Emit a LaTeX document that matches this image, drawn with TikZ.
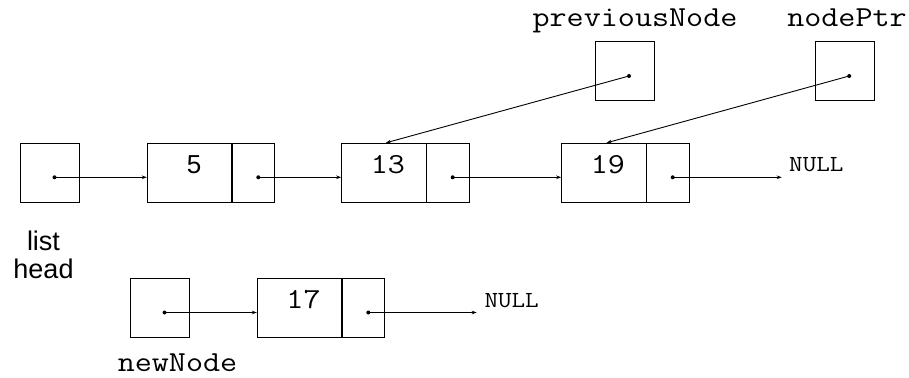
\documentclass[tikz,border=0pt]{standalone}
\usepackage{fontspec}
\usepackage{graphicx}
\usetikzlibrary{calc,arrows.meta}
\newfontfamily\sansfont{Liberation Sans}
% typewriter text widened to a 0.6em advance
\newcommand{\cour}[1]{\scalebox{1.143}[1]{#1}}
\begin{document}
\begin{tikzpicture}[x=1pt,y=-1pt,
  cell/.style={draw=black,line width=1pt,inner sep=0pt,minimum height=59pt},
  datacell/.style={cell,minimum width=84.5pt},
  ptrcell/.style={cell,minimum width=42.5pt},
  varcell/.style={cell,minimum width=59pt},
  link/.style={draw=black,line width=0.9pt,-{Stealth[length=5pt,width=3.6pt]}},
  dot/.style={circle,fill=black,inner sep=0pt,minimum size=4pt},
  num/.style={anchor=base,inner sep=0pt,font=\ttfamily\fontsize{29}{29}\selectfont},
  label/.style={anchor=base,inner sep=0pt,font=\ttfamily\fontsize{29}{29}\selectfont},
  nulltxt/.style={anchor=base west,inner sep=0pt,font=\ttfamily\fontsize{23}{23}\selectfont}]
\useasboundingbox (0,0) rectangle (909,377);

% pointer variables
\node[varcell] (head) at (50,172.8) {};
\node[varcell] (prev) at (624.5,71.5) {};
\node[varcell] (ptr)  at (844.7,71.5) {};
\node[varcell] (newn) at (160,308) {};

% list nodes: data part and pointer part
\node[datacell] (n5)   at (189.55,172.8) {};
\node[ptrcell]  (n5p)  at ($(n5.east)+(21.25,0)$) {};
\node[datacell] (n13)  at (383.95,172.8) {};
\node[ptrcell]  (n13p) at ($(n13.east)+(21.25,0)$) {};
\node[datacell] (n19)  at (603.95,172.8) {};
\node[ptrcell]  (n19p) at ($(n19.east)+(21.25,0)$) {};
\node[datacell] (n17)  at (299.55,308) {};
\node[ptrcell]  (n17p) at ($(n17.east)+(21.25,0)$) {};

% values
\node[anchor=base,inner sep=0pt,font=\sansfont\fontsize{26}{26}\selectfont] (v5) at ($(n5.center)+(4.5,0.8)$) {5};
\node[num] (v13) at ($(n13.center)+(4,0.8)$) {\cour{13}};
\node[num] (v19) at ($(n19.center)+(4,0.8)$) {\cour{19}};
\node[num] (v17) at ($(n17.center)+(4,0.5)$) {\cour{17}};

% labels
\node[label] (lprev) at (635,27) {\cour{previousNode}};
\node[label] (lptr)  at (847,27) {\cour{nodePtr}};
\node[label] (lnew)  at (177.5,371.5) {\cour{newNode}};
\node[inner sep=0pt,align=center,font=\sansfont\fontsize{27}{27.3}\selectfont,anchor=base] (lhead) at (43.5,278) {list\\head};

\node[nulltxt] (null1) at (789,171) {\cour{NULL}};
\node[nulltxt] (null2) at (484.3,307.7) {\cour{NULL}};

% pointer dots
\coordinate (dh)   at ($(head.center)+(4.5,4.5)$);
\coordinate (dprev) at ($(prev.center)+(4.5,4.5)$);
\coordinate (dptr) at ($(ptr.center)+(4.5,4.5)$);
\coordinate (dnew) at ($(newn.center)+(4.5,4.5)$);
\coordinate (d5)   at ($(n5p.center)+(4.75,4.5)$);
\coordinate (d13)  at ($(n13p.center)+(4.75,4.5)$);
\coordinate (d19)  at ($(n19p.center)+(4.75,4.5)$);
\coordinate (d17)  at ($(n17p.center)+(4.75,4.5)$);
\coordinate (e1) at ($(d19 -| null1.west)+(-7.3,0)$);
\coordinate (e2) at ($(d17 -| null2.west)+(-7.6,0)$);

% connectors
\draw[link] (dh) -- (dh -| n5.west);
\draw[link] (d5) -- (d5 -| n13.west);
\draw[link] (d13) -- (d13 -| n19.west);
\draw[link] (d19) -- (e1);
\draw[link] (dnew) -- (dnew -| n17.west);
\draw[link] (d17) -- (e2);
\draw[link] (dprev) -- ($(n13.north)+(2,0)$);
\draw[link] (dptr) -- ($(n19.north)+(2.7,0)$);

\foreach \d in {dh,dprev,dptr,dnew,d5,d13,d19,d17}
  \node[dot] at (\d) {};
\end{tikzpicture}
\end{document}
